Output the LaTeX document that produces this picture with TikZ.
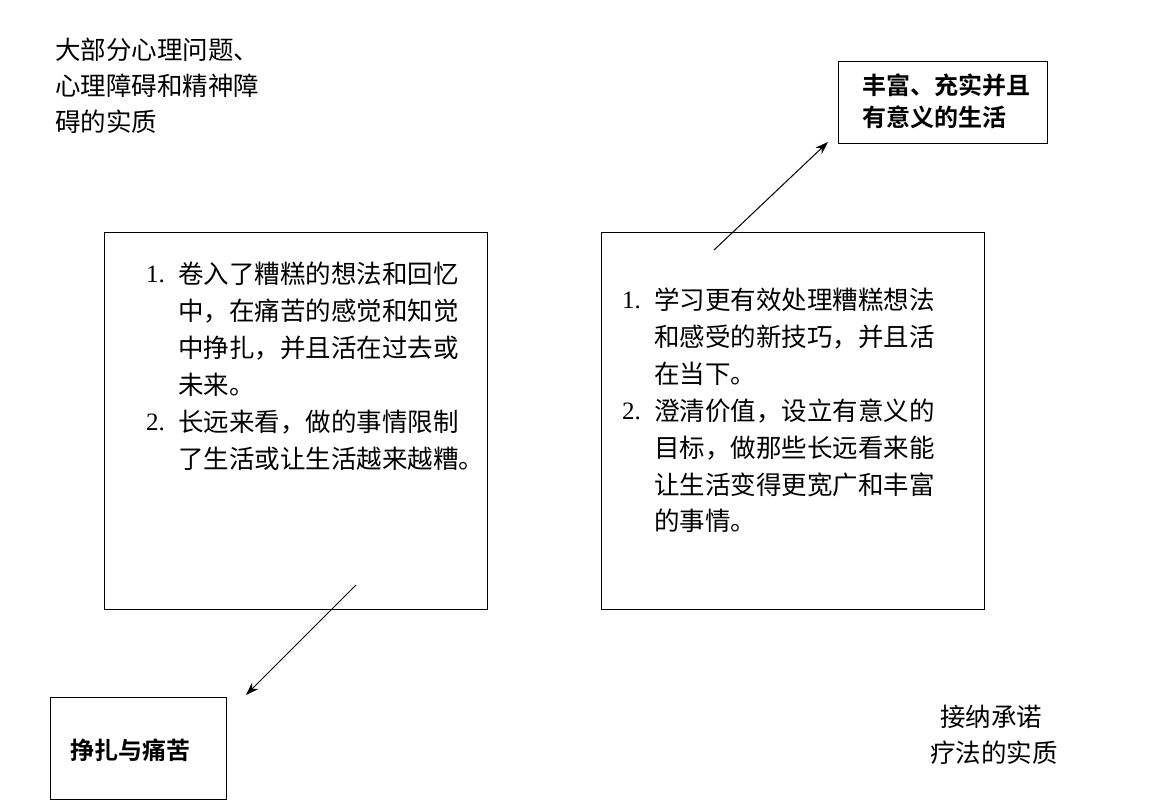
\documentclass[tikz,border=0pt]{standalone}
\usepackage{fontspec}
\setmainfont{Liberation Serif}
\newfontfamily\cjk{Noto Sans CJK SC}
\newfontfamily\cjkb{Noto Sans CJK SC Bold}
\usetikzlibrary{arrows.meta}
\begin{document}
\begin{tikzpicture}[x=1pt,y=-1pt,
  txt/.style={anchor=west,inner sep=0pt,font=\fontsize{25.5}{25.5}\selectfont\cjk},
  num/.style={anchor=west,inner sep=0pt,font=\fontsize{25}{25}\selectfont},
  bx/.style={draw,line width=1pt},
  bt/.style={anchor=west,inner sep=0pt,font=\fontsize{24}{24}\selectfont\cjkb},
  ar/.style={-{Stealth[length=13pt,width=9pt]},line width=1pt}]
\useasboundingbox (0,0) rectangle (1152,801);
\draw[bx] (104,232) rectangle (487,609);
\draw[bx] (601,232) rectangle (984,609);
\draw[bx] (838,61) rectangle (1047,143);
\draw[bx] (50,697) rectangle (226,799);
% top-left text
\node[txt] (t1) at (55,50) {大部分心理问题、};
\node[txt] (t2) at (55,86) {心理障碍和精神障};
\node[txt] (t3) at (55,122) {碍的实质};
% bottom-right text
\node[txt] (b1) at (940,717) {接纳承诺};
\node[txt] (b2) at (930,753) {疗法的实质};
% boxes text
\node[bt] (rt1) at (862,85) {丰富、充实并且};
\node[bt] (rt2) at (862,117) {有意义的生活};
\node[bt] (lb) at (70,750) {挣扎与痛苦};
% left box
\node[num] at (146,274) {1.};
\node[txt] at (178,274) {卷入了糟糕的想法和回忆};
\node[txt] at (178,311) {中，在痛苦的感觉和知觉};
\node[txt] at (178,348) {中挣扎，并且活在过去或};
\node[txt] at (178,385) {未来。};
\node[num] at (146,422) {2.};
\node[txt] at (178,422) {长远来看，做的事情限制};
\node[txt] at (178,459) {了生活或让生活越来越糟。};
% right box
\node[num] at (622,300) {1.};
\node[txt] at (654,300) {学习更有效处理糟糕想法};
\node[txt] at (654,337) {和感受的新技巧，并且活};
\node[txt] at (654,374) {在当下。};
\node[num] at (622,411) {2.};
\node[txt] at (654,411) {澄清价值，设立有意义的};
\node[txt] at (654,448) {目标，做那些长远看来能};
\node[txt] at (654,485) {让生活变得更宽广和丰富};
\node[txt] at (654,521) {的事情。};
\coordinate (a1) at (714,250);
\coordinate (a2) at (828,142);
\coordinate (c1) at (356,585);
\coordinate (c2) at (246,695);
\draw[ar] (a1) -- (a2);
\draw[ar] (c1) -- (c2);
\end{tikzpicture}
\end{document}
